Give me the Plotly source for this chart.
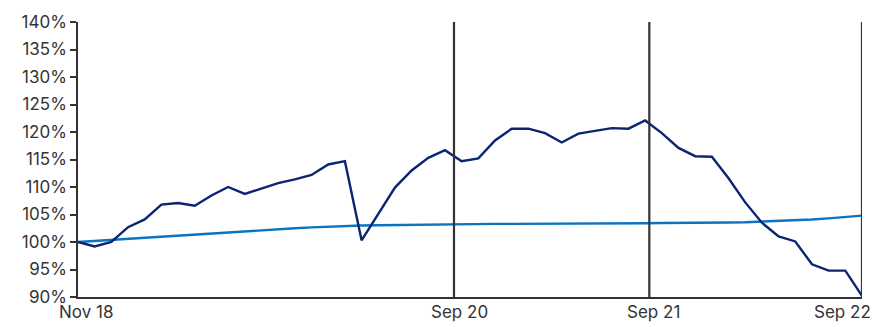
import plotly.graph_objects as go

# Monthly index values (% of starting level), 48 observations
portfolio = [100.0, 99.2, 100.0, 102.7, 104.1, 106.8, 107.1, 106.6, 108.45, 110.0,
             108.75, 109.7, 110.7, 111.4, 112.2, 114.1, 114.7, 100.3, 105.0, 109.9,
             113.0, 115.3, 116.7, 114.7, 115.2, 118.45, 120.6, 120.6, 119.8, 118.1,
             119.7, 120.2, 120.7, 120.6, 122.1, 119.8, 117.1, 115.6, 115.5, 111.6,
             107.2, 103.5, 101.0, 100.1, 95.95, 94.8, 94.8, 90.2]

benchmark = [100.0, 100.2, 100.4, 100.6, 100.8, 101.0, 101.2, 101.4, 101.6, 101.8,
             102.0, 102.2, 102.35, 102.5, 102.65, 102.8, 102.9, 103.0, 103.05, 103.1,
             103.15, 103.2, 103.2, 103.25, 103.25, 103.3, 103.3, 103.3, 103.35, 103.35,
             103.35, 103.4, 103.4, 103.4, 103.4, 103.45, 103.45, 103.5, 103.5, 103.55,
             103.6, 103.7, 103.8, 103.95, 104.1, 104.3, 104.55, 104.8]

# Year markers along the time axis (in observation units)
marker_labels = ["Sep 20", "Sep 21", "Sep 22"]
marker_pos = [22.54, 34.25, 47]
start_label = "Nov 18"

y_ticks = list(range(90, 141, 5))
y_ticktext = [f"{v}%" for v in y_ticks]

x = list(range(len(portfolio)))

FONT = dict(family="Inter, Roboto, sans-serif", size=17, color="#333333")

fig = go.Figure()
fig.add_trace(go.Scatter(x=x, y=benchmark, mode="lines",
                         line=dict(color="#0a74c2", width=2.4), hoverinfo="skip"))
fig.add_trace(go.Scatter(x=x, y=portfolio, mode="lines",
                         line=dict(color="#0b2474", width=2.4), hoverinfo="skip"))

for p in marker_pos:
    fig.add_shape(type="line", xref="x", yref="paper", x0=p, x1=p, y0=0, y1=1,
                  line=dict(color="#333333", width=2.2), layer="above")

# Axis labels for the start and the year markers
label_shift = [6, 4, -20]
fig.add_annotation(x=0, y=0, xref="x", yref="paper", text=start_label,
                   showarrow=False, xanchor="center", yanchor="top",
                   xshift=8, yshift=-3, font=FONT)
for lab, p, s in zip(marker_labels, marker_pos, label_shift):
    fig.add_annotation(x=p, y=0, xref="x", yref="paper", text=lab,
                       showarrow=False, xanchor="center", yanchor="top",
                       xshift=s, yshift=-3, font=FONT)

fig.update_layout(
    width=886, height=327,
    margin=dict(l=78, r=24, t=15, b=30),
    paper_bgcolor="white", plot_bgcolor="white",
    showlegend=False,
    font=FONT,
    xaxis=dict(range=[0, 47], showgrid=False, zeroline=False, showticklabels=False,
               showline=True, linecolor="#333333", linewidth=1.5, ticks=""),
    yaxis=dict(range=[90, 140], tickvals=y_ticks, ticktext=y_ticktext,
               showgrid=False, zeroline=False, showline=True,
               linecolor="#333333", linewidth=1.5, ticks="outside",
               ticklen=6, tickcolor="#333333", tickwidth=1.5),
)

fig.write_html("out.html")
